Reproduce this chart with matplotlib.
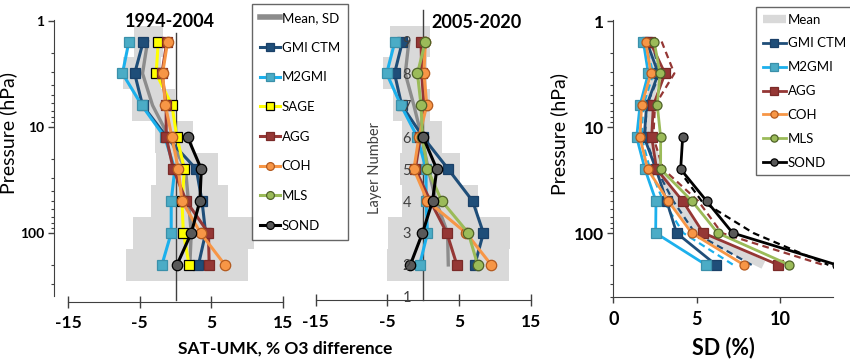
import numpy as np
import matplotlib
matplotlib.use("Agg")
import matplotlib.pyplot as plt
from matplotlib.ticker import LogLocator, NullFormatter, FixedLocator

plt.rcParams['font.family'] = ['Lato', 'DejaVu Sans']

nan = np.nan

# umkehr layers 9..2 and their pressure (hPa)
layers = [9, 8, 7, 6, 5, 4, 3, 2]
pressure = [1.5625, 3.125, 6.25, 12.5, 25, 50, 100, 200]
layer_ticks = [1, 2, 3, 4, 5, 6, 7, 8, 9]
layer_tick_p = [400, 200, 100, 50, 25, 12.5, 6.25, 3.125, 1.5625]

# 1994-2004, SAT-UMK % difference
gmi_a = [-4.5, -5.7, -4.6, -1.2, 2.9, 3.7, 4.2, 3.2]
m2gmi_a = [-6.5, -7.4, -4.7, -1.5, -0.1, -0.6, -0.6, -1.9]
sage_a = [-2.4, -2.7, -0.5, 0.2, 1.25, 0.9, 1.1, 1.9]
agg_a = [-1.2, -1.9, -1.3, -1.3, -0.3, 1.5, 4.6, 4.7]
coh_a = [-1.1, -1.8, -1.4, -0.5, 0.4, 0.9, 3.5, 6.9]
mls_a = [nan] * 8
sond_a = [nan, nan, nan, 1.7, 3.6, 3.4, 2.2, 0.2]
mean_a = [-3.9, -4.6, -3.2, -0.9, 1.4, 1.8, 2.2, 2.0]
sd_lo_a = [-5.8, -7.3, -6.1, -2.9, -2.7, -3.4, -5.9, -6.9]
sd_hi_a = [-1.8, -2.0, -0.1, 2.4, 5.9, 7.3, 11.0, 10.1]

# 2005-2020
gmi_b = [-2.9, -4.0, -3.0, 0.0, 3.5, 6.9, 8.4, 7.2]
m2gmi_b = [-3.95, -5.1, -3.1, -0.8, 0.4, 0.4, 0.6, -0.5]
sage_b = [nan] * 8
agg_b = [-0.3, -0.2, 0.1, -0.4, -1.1, 1.0, 3.3, 4.7]
coh_b = [0.3, 0.1, 0.5, -0.6, -1.3, 0.6, 6.0, 9.5]
mls_b = [0.3, -0.8, -0.3, -0.1, 0.6, 2.6, 6.3, 7.6]
sond_b = [nan, nan, nan, 0.0, 1.9, 1.3, -0.1, -1.8]
mean_b = [-2.0, -2.5, -1.3, -0.2, 0.7, 1.8, 3.4, 3.5]
sd_lo_b = [-4.6, -5.6, -4.2, -3.0, -3.25, -3.0, -4.9, -5.1]
sd_hi_b = [0.9, 0.5, 0.9, 2.6, 5.1, 7.7, 12.1, 12.0]

# standard deviation (%), solid = one period, dashed = the other
gmi_sd = [2.0, 2.7, 2.0, 1.85, 2.56, 3.2, 3.8, 6.16]
m2gmi_sd = [1.8, 2.1, 1.6, 1.4, 1.9, 2.56, 2.54, 5.56]
agg_sd = [2.2, 3.1, 2.4, 2.3, 2.6, 4.16, 5.4, 9.9]
coh_sd = [1.94, 2.26, 1.7, 1.6, 2.06, 3.3, 4.7, 7.84]
mls_sd = [2.45, 2.8, 2.64, 2.84, 2.84, 4.72, 6.26, 10.56]
sond_sd = [nan, nan, nan, 4.16, 4.04, 5.6, 7.16, 13.4]
mean_sd = [2.2, 2.6, 2.1, 2.2, 2.7, 3.7, 5.1, 9.0]
gmi_sd2 = [2.3, 2.8, 2.0, 1.9, 2.6, 3.6, 4.9, 8.3]
m2gmi_sd2 = [1.9, 2.4, 1.8, 1.7, 2.2, 3.0, 4.2, 7.2]
agg_sd2 = [2.9, 3.66, 2.5, 2.4, 3.0, 5.1, 6.5, 12.6]
sond_sd2 = [nan, nan, nan, nan, 3.9, 5.3, 8.4, 12.9]

# series styles: name -> (line colour, marker, face, edge)
styles = {
    'GMI CTM': ('#1f4e79', 's', '#1f4e79', '#1a4068'),
    'M2GMI': ('#1cb0ec', 's', '#4bacc6', '#3a90aa'),
    'SAGE': ('#ffff00', 's', '#ffff00', '#000000'),
    'AGG': ('#953735', 's', '#953735', '#7a2a28'),
    'COH': ('#f79646', 'o', '#f79646', '#b35a1f'),
    'MLS': ('#9bbb59', 'o', '#9bbb59', '#4f6228'),
    'SOND': ('#000000', 'o', '#595959', '#000000'),
}

W, H = 850, 363


def px_box(x0, y0, x1, y1):
    return [x0 / W, 1 - y1 / H, (x1 - x0) / W, (y1 - y0) / H]


def style_pressure_axis(ax, bottom_px):
    ax.set_yscale('log')
    ax.set_ylim(10 ** ((bottom_px - 21) / 106.0), 10 ** (-1 / 106.0))
    ax.yaxis.set_minor_locator(LogLocator(base=10, subs=np.arange(2, 10)))
    ax.yaxis.set_minor_formatter(NullFormatter())
    ax.tick_params(axis='y', which='major', direction='out', length=4, width=1, color='#404040', pad=3)
    ax.tick_params(axis='y', which='minor', direction='out', length=2.5, width=0.8, color='#404040')
    for s in ['top', 'right']:
        ax.spines[s].set_visible(False)


def diff_panel(ax, data, mean, lo, hi):
    rt2 = np.sqrt(2)
    for p, l, h in zip(pressure, lo, hi):
        ax.fill_betweenx([p / rt2, p * rt2], l, h, color='#d9d9d9', lw=0, zorder=0)
    ax.plot(mean, pressure, color='#8c8c8c', lw=2.4, zorder=2, label='Mean, SD')
    handles = [ax.lines[-1]]
    for name, vals in data:
        c, m, fc, ec = styles[name]
        ln, = ax.plot(vals, pressure, color=c, lw=2.2, marker=m, ms=7.5,
                      mfc=fc, mec=ec, mew=0.9, zorder=3, label=name)
        handles.append(ln)
    ax.set_xlim(-15, 15)
    ax.tick_params(axis='x', direction='inout', length=8, width=1, color='#404040', pad=6)
    ax.spines['bottom'].set_color('#404040')
    ax.spines['left'].set_color('#404040')
    ax.patch.set_alpha(0)
    return handles


fig = plt.figure(figsize=(8.5, 3.63), dpi=100)

# left panel: 1994-2004
ax1 = fig.add_axes(px_box(68, 20, 283, 296))
ax1.spines['left'].set_position(('outward', 10))
ax1.spines['bottom'].set_position(('outward', 4))
style_pressure_axis(ax1, 296)
h1 = diff_panel(ax1, [('GMI CTM', gmi_a), ('M2GMI', m2gmi_a), ('SAGE', sage_a), ('AGG', agg_a),
                      ('COH', coh_a), ('MLS', mls_a), ('SOND', sond_a)], mean_a, sd_lo_a, sd_hi_a)
ax1.axvline(0, ymin=-4 / 276, ymax=(296 - 33) / 276, color='#404040', lw=1, clip_on=False, zorder=1)
ax1.set_ylabel('Pressure (hPa)', fontsize=14)
ax1.yaxis.set_label_coords(-0.237, 0.59)
ax1.text(0.474, 0.996, '1994-2004', transform=ax1.transAxes, ha='center', va='center',
         fontsize=13, fontweight='bold')

# middle panel: 2005-2020
ax2 = fig.add_axes(px_box(315.7, 20, 530.7, 300))
ax2.set_yscale('log')
ax2.spines['left'].set_position(('data', -1.5))
ax2.spines['left'].set_visible(False)
diff_panel(ax2, [('GMI CTM', gmi_b), ('M2GMI', m2gmi_b), ('SAGE', sage_b), ('AGG', agg_b),
                 ('COH', coh_b), ('MLS', mls_b), ('SOND', sond_b)], mean_b, sd_lo_b, sd_hi_b)
ax2.set_ylim(10 ** ((300 - 21) / 106.0), 10 ** (-1 / 106.0))
ax2.yaxis.set_minor_locator(FixedLocator([]))
ax2.tick_params(axis='y', length=0, pad=1)
for s in ['top', 'right']:
    ax2.spines[s].set_visible(False)
ax2.axvline(0, ymin=0, ymax=(300 - 10) / 280, color='#404040', lw=1, clip_on=False, zorder=1)
ax2.set_ylabel('Layer Number', fontsize=10.5, color='#404040')
ax2.yaxis.set_label_coords(0.308, 0.47)
ax2.yaxis.set_zorder(6)
ax2.text(0.749, 0.991, '2005-2020', transform=ax2.transAxes, ha='center', va='center',
         fontsize=13, fontweight='bold')

fig.text(285 / W, 1 - 349 / H, 'SAT-UMK, % O3 difference', ha='center', va='center',
         fontsize=12.5, fontweight='bold')

leg1 = fig.legend(handles=h1, loc='upper left', bbox_to_anchor=(252 / W, 1 - 4 / H),
                  bbox_transform=fig.transFigure, fontsize=9.5, frameon=True, fancybox=False,
                  edgecolor='#404040', handlelength=1.5, handletextpad=0.15, labelspacing=1.34,
                  borderpad=0.6, borderaxespad=0, markerscale=0.75)
leg1.get_frame().set_linewidth(1)
leg1.legend_handles[0].set_linewidth(4)

# right panel: SD
ax3 = fig.add_axes(px_box(613.3, 20, 832.7, 297))
style_pressure_axis(ax3, 297)
ax3.plot(mean_sd, pressure, color='#d9d9d9', lw=6, solid_capstyle='butt', zorder=1, label='Mean')
h3 = [ax3.lines[-1]]
for name, vals in [('GMI CTM', gmi_sd2), ('M2GMI', m2gmi_sd2), ('AGG', agg_sd2), ('SOND', sond_sd2)]:
    ax3.plot(vals, pressure, color=styles[name][0], lw=1.6, ls=(0, (3, 2)), zorder=2)
for name, vals in [('GMI CTM', gmi_sd), ('M2GMI', m2gmi_sd), ('AGG', agg_sd),
                   ('COH', coh_sd), ('MLS', mls_sd), ('SOND', sond_sd)]:
    c, m, fc, ec = styles[name]
    ln, = ax3.plot(vals, pressure, color=c, lw=2, marker=m, ms=6.5, mfc=fc, mec=ec,
                   mew=0.9, zorder=3, label=name)
    h3.append(ln)
ax3.set_xlim(0, 13.16)
ax3.tick_params(axis='x', direction='out', length=4, width=1, color='#404040', pad=6)
ax3.spines['bottom'].set_color('#404040')
ax3.spines['left'].set_color('#404040')
ax3.set_ylabel('Pressure (hPa)', fontsize=14)
ax3.yaxis.set_label_coords(-0.206, 0.59)
ax3.set_xlabel('SD (%)', fontsize=15.5, fontweight='bold', labelpad=6)

leg3 = ax3.legend(handles=h3, loc='upper left', bbox_to_anchor=(756 / W, 1 - 7 / H),
                  bbox_transform=fig.transFigure, fontsize=9.5, frameon=True, fancybox=False,
                  edgecolor='#404040', handlelength=1.8, handletextpad=0.1, labelspacing=0.9,
                  borderpad=0.5, borderaxespad=0, markerscale=0.8)
leg3.get_frame().set_linewidth(1)

# ticks and tick labels, set last so nothing resets them
diff_ticks = [-15, -5, 5, 15]
for ax in (ax1, ax2):
    ax.set_xticks(diff_ticks, [str(v) for v in diff_ticks], fontweight='bold', fontsize=12.5)
for ax, fs in ((ax1, 10), (ax3, 12.5)):
    ax.set_yticks([1, 10, 100], ['1', '10', '100'], fontweight='bold', fontsize=fs)
ax2.set_yticks(layer_tick_p, [str(n) for n in layer_ticks], fontsize=10.5, color='#404040')
ax3.set_xticks([0, 5, 10], ['0', '5', '10'], fontweight='bold', fontsize=13)

fig.savefig('out.png', dpi=100)
